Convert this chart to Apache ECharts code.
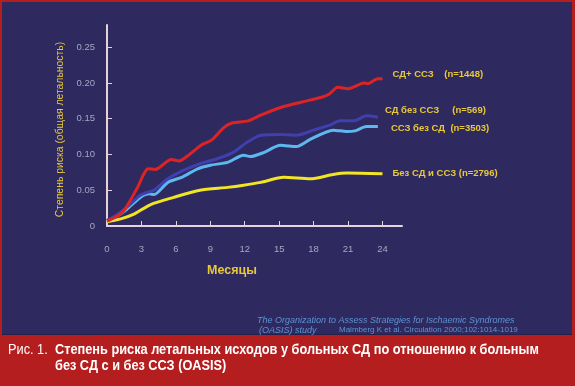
<!DOCTYPE html>
<html><head><meta charset="utf-8">
<script src="https://cdn.jsdelivr.net/npm/echarts@6/dist/echarts.min.js"></script>
<style>
html,body{margin:0;padding:0;background:#b51e1f;width:575px;height:386px;overflow:hidden;}
#panel{position:absolute;left:2px;top:2px;width:570px;height:332px;background:#2e2a5f;border-bottom:1px solid #24204a;}
#c{position:absolute;left:0;top:0;width:575px;height:386px;}
</style></head>
<body><div id="panel"></div><div id="c"></div>
<script>
// Data (months, mortality risk)
const xTicks = [0, 3, 6, 9, 12, 15, 18, 21, 24];
const yTicks = [0, 0.05, 0.10, 0.15, 0.20, 0.25];

const seriesNames = ['СД+ ССЗ    (n=1448)', 'СД без ССЗ     (n=569)', 'ССЗ без СД  (n=3503)', 'Без СД и ССЗ (n=2796)'];

const redMonths = [0, 0.8, 1.5, 2.6, 3.6, 4.2, 5.6, 6.3, 7.1, 8.2, 9.1, 10.2, 10.9, 12.3, 13.4, 15.2, 16.9, 18.7, 19.4, 20.1, 21.0, 22.4, 22.7, 23.6, 24.0];
const redValues = [0.007, 0.013, 0.022, 0.052, 0.080, 0.079, 0.093, 0.091, 0.099, 0.113, 0.120, 0.138, 0.144, 0.147, 0.155, 0.166, 0.173, 0.180, 0.185, 0.194, 0.192, 0.200, 0.199, 0.206, 0.206];

const darkBlueMonths = [0, 0.8, 1.7, 2.9, 3.5, 4.1, 5.3, 6.7, 8.1, 9.6, 11.0, 12.2, 13.4, 15.1, 16.5, 18.0, 19.4, 20.3, 21.5, 22.6, 23.6];
const darkBlueValues = [0.008, 0.015, 0.026, 0.043, 0.047, 0.050, 0.066, 0.078, 0.087, 0.094, 0.103, 0.117, 0.127, 0.128, 0.127, 0.134, 0.141, 0.147, 0.147, 0.154, 0.152];

const lightBlueMonths = [0, 0.8, 1.7, 2.9, 3.7, 4.1, 5.3, 6.5, 7.9, 9.0, 10.5, 11.9, 12.5, 13.7, 15.1, 16.5, 17.7, 19.7, 20.9, 21.6, 22.6, 23.6];
const lightBlueValues = [0.007, 0.013, 0.023, 0.040, 0.045, 0.044, 0.061, 0.068, 0.080, 0.085, 0.089, 0.099, 0.097, 0.103, 0.113, 0.111, 0.121, 0.134, 0.132, 0.133, 0.139, 0.139];

const yellowMonths = [0, 1.2, 2.4, 3.8, 5.8, 8.1, 10.5, 11.9, 13.4, 15.4, 17.7, 19.7, 20.9, 24.0];
const yellowValues = [0.006, 0.010, 0.017, 0.030, 0.040, 0.050, 0.054, 0.057, 0.061, 0.068, 0.066, 0.072, 0.074, 0.073];

function pairs(xs, ys) { return xs.map((x, i) => [x, ys[i]]); }

const chart = echarts.init(document.getElementById('c'), null, {renderer: 'canvas'});
const labelFont = 'Liberation Sans, Arial, sans-serif';
const axisColor = '#e6d2dc';
const yellowText = '#e9c83a';

function mkSeries(name, data, color, dist, off) {
  return {
    name: name, type: 'line', data: data, showSymbol: false, smooth: 0.25,
    lineStyle: {color: color, width: 3}, itemStyle: {color: color},
    endLabel: {show: true, formatter: name, color: yellowText, fontSize: 9.5, fontWeight: 'bold',
      fontFamily: labelFont, distance: dist, offset: off},
    emphasis: {disabled: true}
  };
}

const capFont = '"Liberation Sans", Arial, sans-serif';

chart.setOption({
  backgroundColor: 'transparent',
  animation: false,
  grid: {left: 107, right: 173, top: 25, bottom: 160, containLabel: false},
  xAxis: {
    type: 'value', min: 0, max: 25.7,
    name: 'Месяцы', nameLocation: 'middle', nameGap: 38,
    nameTextStyle: {color: yellowText, fontSize: 12.5, fontWeight: 'bold', fontFamily: labelFont, padding: [0, 45, 0, 0]},
    axisLine: {show: true, lineStyle: {color: axisColor, width: 2}},
    axisTick: {show: true, inside: true, length: 5, customValues: xTicks, lineStyle: {color: axisColor, width: 1}},
    axisLabel: {customValues: xTicks, color: '#a7a6c2', fontSize: 9.5, fontFamily: labelFont, margin: 18},
    splitLine: {show: false}
  },
  yAxis: {
    type: 'value', min: 0, max: 0.281,
    name: 'Степень риска (общая летальность)', nameLocation: 'middle', nameGap: 42, nameRotate: 90,
    nameTextStyle: {color: yellowText, fontSize: 10.4, fontFamily: labelFont, padding: [0, 8, 0, 0]},
    axisLine: {show: true, lineStyle: {color: axisColor, width: 2}},
    axisTick: {show: true, inside: true, length: 5, customValues: yTicks, lineStyle: {color: axisColor, width: 1}},
    axisLabel: {customValues: yTicks, color: '#a7a6c2', fontSize: 9.5, fontFamily: labelFont, margin: 12,
      formatter: v => v === 0 ? '0' : v.toFixed(2)},
    splitLine: {show: false}
  },
  series: [
    mkSeries(seriesNames[3], pairs(yellowMonths, yellowValues), '#f2e526', 10, [0, 0]),
    mkSeries(seriesNames[2], pairs(lightBlueMonths, lightBlueValues), '#5cb8ee', 13, [0, 2]),
    mkSeries(seriesNames[1], pairs(darkBlueMonths, darkBlueValues), '#3f3fae', 7, [0, -7]),
    mkSeries(seriesNames[0], pairs(redMonths, redValues), '#dd2424', 10, [0, -4])
  ],
  graphic: [
    {type: 'text', x: 257, y: 316, style: {text: 'The Organization to Assess Strategies for Ischaemic Syndromes',
      fill: '#5d92d4', font: 'italic 9px Liberation Sans, Arial, sans-serif', verticalAlign: 'top'}},
    {type: 'text', x: 259, y: 326, style: {text: '(OASIS) study',
      fill: '#5d92d4', font: 'italic 9px Liberation Sans, Arial, sans-serif', verticalAlign: 'top'}},
    {type: 'text', x: 339, y: 326, style: {text: 'Malmberg K et al. Circulation 2000;102:1014-1019',
      fill: '#5d92d4', font: '8px Liberation Sans, Arial, sans-serif', verticalAlign: 'top'}},
    {type: 'text', x: 8, y: 342, scaleX: 0.85, style: {text: 'Рис. 1.', fill: '#ffffff',
      font: '15px ' + capFont, verticalAlign: 'top'}},
    {type: 'text', x: 55, y: 342, scaleX: 0.85, style: {text: 'Степень риска летальных исходов у больных СД по отношению к больным', fill: '#ffffff',
      font: 'bold 15px ' + capFont, verticalAlign: 'top'}},
    {type: 'text', x: 55, y: 358, scaleX: 0.85, style: {text: 'без СД с и без ССЗ (OASIS)', fill: '#ffffff',
      font: 'bold 15px ' + capFont, verticalAlign: 'top'}}
  ]
});
</script></body></html>
